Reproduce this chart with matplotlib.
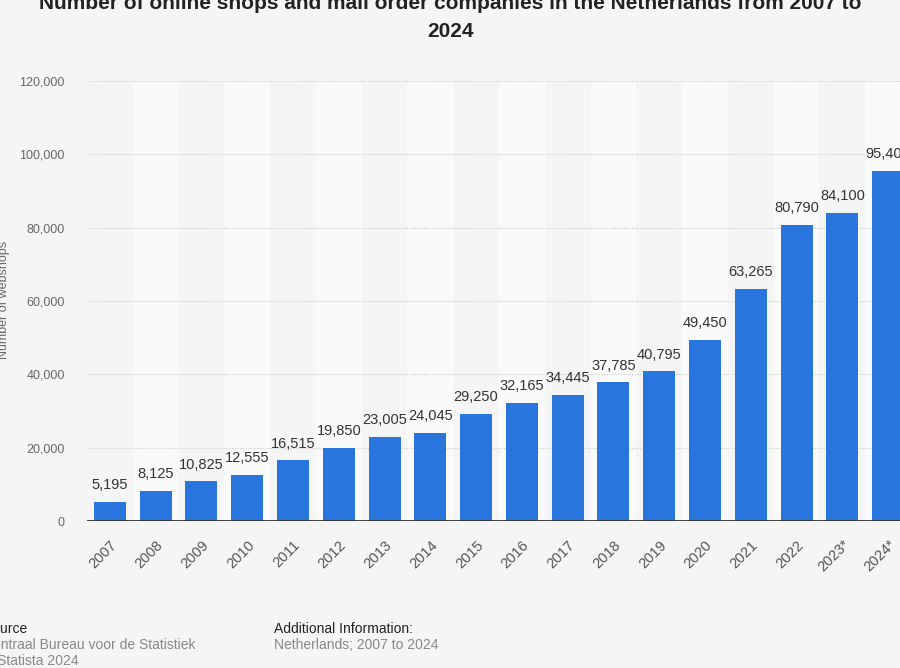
import matplotlib
matplotlib.use("Agg")
import matplotlib.pyplot as plt
import matplotlib.transforms as mtransforms

years = ["2007", "2008", "2009", "2010", "2011", "2012", "2013", "2014", "2015",
         "2016", "2017", "2018", "2019", "2020", "2021", "2022", "2023*", "2024*"]
webshops = [5195, 8125, 10825, 12555, 16515, 19850, 23005, 24045, 29250,
            32165, 34445, 37785, 40795, 49450, 63265, 80790, 84100, 95400]
y_ticks = [0, 20000, 40000, 60000, 80000, 100000, 120000]

title = "Number of online shops and mail order companies in the Netherlands from 2007 to\n2024"
y_label = "Number of webshops"
source_title = "Source"
source_lines = ["Centraal Bureau voor de Statistiek", "© Statista 2024"]
info_title = "Additional Information:"
info_lines = ["Netherlands; 2007 to 2024"]

plt.rcParams['font.family'] = ['Liberation Sans', 'DejaVu Sans']

W, H = 900, 668
fig = plt.figure(figsize=(W / 100, H / 100), dpi=100, facecolor="#f5f5f5")
ax = fig.add_axes([87 / W, 1 - 521 / H, (911 - 87) / W, (521 - 81) / H])
ax.set_facecolor("#f5f5f5")

x = list(range(len(years)))
for i in x:
    if i % 2 == 1:
        ax.axvspan(i - 0.5, i + 0.5, color="#fafafa", zorder=0, lw=0)

for yv in y_ticks[1:]:
    ax.axhline(yv, color="#c8c8c8", lw=0.8, ls=(0, (1, 1.5)), zorder=1)

bars = ax.bar(x, webshops, width=0.7, color="#2876dd", zorder=2)
for xi, v in zip(x, webshops):
    ax.annotate(f"{v:,}", (xi, v), xytext=(0, 7), textcoords="offset points",
                ha="center", va="bottom", fontsize=10.5, color="#333333",
                annotation_clip=False)

ax.axhline(0, color="#333333", lw=1.3, zorder=3)
ax.set_xlim(-0.5, len(years) - 0.5)
ax.set_ylim(0, 120000)
ax.set_yticks(y_ticks)
ax.set_yticklabels([f"{t:,}" for t in y_ticks], fontsize=9, color="#666666")
ax.set_xticks(x)
ax.set_xticklabels(years, rotation=45, ha="right", va="top",
                   rotation_mode="anchor", fontsize=10.5, color="#555555")
offset = mtransforms.ScaledTranslation(3 / 100, 0, fig.dpi_scale_trans)
for lab in ax.get_xticklabels():
    lab.set_transform(lab.get_transform() + offset)
ax.tick_params(axis="both", length=0)
ax.tick_params(axis="y", pad=16)
ax.tick_params(axis="x", pad=12)
for s in ax.spines.values():
    s.set_visible(False)

fig.text(4 / W, 1 - 300 / H, y_label, rotation=90, ha="center", va="center",
         fontsize=9, color="#666666")

fig.text(0.5, 1 - 41 / H, title, ha="center", va="bottom", fontsize=15,
         fontweight="bold", color="#222222", linespacing=1.62)

fig.text(-17 / W, 1 - 633 / H, source_title, ha="left", va="baseline",
         fontsize=10, color="#222222")
for k, line in enumerate(source_lines):
    fig.text(-17 / W, 1 - (649 + 16 * k) / H, line, ha="left", va="baseline",
             fontsize=10, color="#888888")
fig.text(274 / W, 1 - 633 / H, info_title, ha="left", va="baseline",
         fontsize=10, color="#222222")
for k, line in enumerate(info_lines):
    fig.text(274 / W, 1 - (649 + 16 * k) / H, line, ha="left", va="baseline",
             fontsize=10, color="#888888")

fig.savefig("out.png", dpi=100, facecolor=fig.get_facecolor())
